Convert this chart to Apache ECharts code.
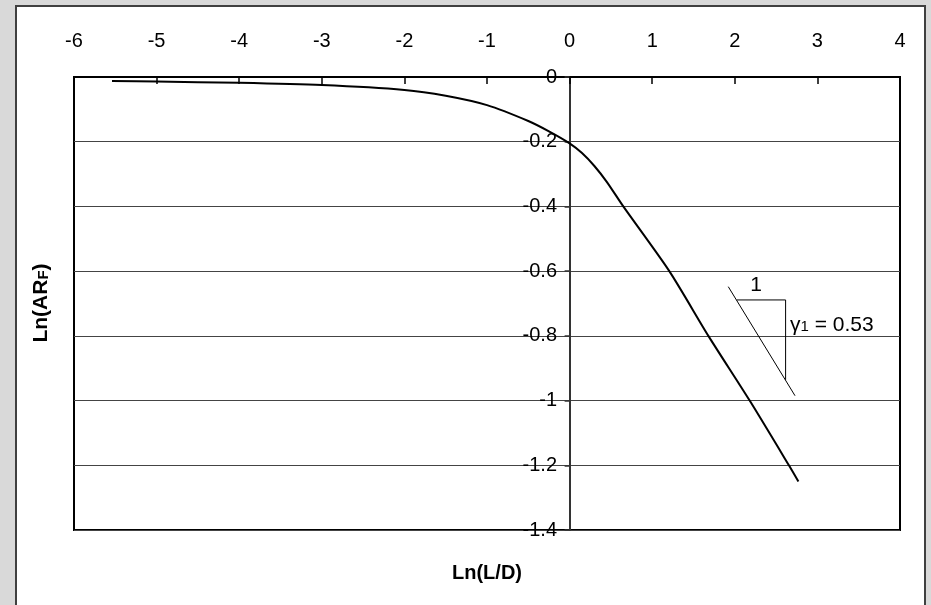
<!DOCTYPE html>
<html>
<head>
<meta charset="utf-8">
<script src="https://cdn.jsdelivr.net/npm/echarts@6/dist/echarts.min.js"></script>
<style>
html,body{margin:0;padding:0;background:#d9d9d9;}
#c{width:931px;height:605px;}
</style>
</head>
<body>
<div id="c"></div>
<script>
// Curve: Ln(L/D) vs Ln(ARF)
const lnLD  = [-5.54, -5.0, -4.0, -3.0, -2.0, -1.5, -1.0, -0.5, -0.25, 0.0, 0.15, 0.3, 0.45, 0.65, 1.207, 1.68, 2.18, 2.655, 2.77];
const lnARF = [-0.012, -0.014, -0.018, -0.025, -0.040, -0.058, -0.087, -0.136, -0.168, -0.205, -0.235, -0.275, -0.324, -0.40, -0.60, -0.80, -1.00, -1.20, -1.25];
// Slope annotation (data coordinates)
const slopeX = [1.921, 2.729];
const slopeY = [-0.648, -0.985];
const triX = [2.023, 2.615, 2.615];
const triY = [-0.689, -0.689, -0.936];
const labelOnePos = [2.257, -0.643];
const gammaPos = [2.668, -0.766];
// Axis ticks
const xTicks = [-6, -5, -4, -3, -2, -1, 0, 1, 2, 3, 4];
const yTicks = [0, -0.2, -0.4, -0.6, -0.8, -1, -1.2, -1.4];

const zip = (a, b) => a.map((v, i) => [v, b[i]]);
const FONT = 'Liberation Sans, Arial, sans-serif';

const chart = echarts.init(document.getElementById('c'));
chart.setOption({
  backgroundColor: '#d9d9d9',
  animation: false,
  graphic: [
    { type: 'rect', z: -100, shape: { x: 16, y: 6, width: 909, height: 620 },
      style: { fill: '#ffffff', stroke: '#404040', lineWidth: 2 } },
    { type: 'text', z: 100, x: 487, y: 573,
      style: { text: 'Ln(L/D)', font: 'bold 20px ' + FONT, fill: '#000', align: 'center', verticalAlign: 'middle' } },
    { type: 'text', z: 100, x: 41, y: 303, rotation: Math.PI / 2,
      style: { text: '{a|Ln(AR}{b|F}{a|)}', align: 'center', verticalAlign: 'middle',
        rich: {
          a: { fontSize: 21, fontWeight: 'bold', fontFamily: FONT, fill: '#000' },
          b: { fontSize: 15, fontWeight: 'bold', fontFamily: FONT, fill: '#000', padding: [6, 0, 0, 0] }
        } } }
  ],
  grid: { left: 74, top: 77, right: 31, bottom: 75, show: true, borderColor: '#000', borderWidth: 2,
    backgroundColor: 'transparent', containLabel: false, outerBoundsMode: 'none' },
  xAxis: {
    type: 'value', position: 'top', min: xTicks[0], max: xTicks[xTicks.length - 1], interval: 1,
    axisLine: { onZero: false, lineStyle: { color: '#000', width: 2 } },
    axisTick: { inside: true, length: 7, lineStyle: { color: '#000', width: 1.5 } },
    axisLabel: { margin: 26, color: '#000', fontSize: 20, fontFamily: FONT, showMinLabel: true, showMaxLabel: true },
    splitLine: { show: false }
  },
  yAxis: {
    type: 'value', min: yTicks[yTicks.length - 1], max: yTicks[0], interval: 0.2,
    axisLine: { onZero: true, lineStyle: { color: '#333', width: 2 } },
    axisTick: { length: 5, lineStyle: { color: '#333', width: 1.5 } },
    axisLabel: { margin: -483, color: '#000', fontSize: 20, fontFamily: FONT, align: 'right',
      formatter: v => String(Math.round(v * 10) / 10) },
    splitLine: { show: true, lineStyle: { color: '#444', width: 1 } }
  },
  series: [
    { type: 'line', data: zip(lnLD, lnARF), smooth: 0.25, showSymbol: false,
      lineStyle: { color: '#000', width: 2 }, z: 5 },
    { type: 'line', data: zip(slopeX, slopeY), showSymbol: false,
      lineStyle: { color: '#000', width: 1 }, z: 5 },
    { type: 'line', data: zip(triX, triY), showSymbol: false,
      lineStyle: { color: '#000', width: 1 }, z: 5 },
    { type: 'scatter', symbolSize: 0, z: 6, itemStyle: { opacity: 1 },
      data: [labelOnePos],
      label: { show: true, position: [0, 0], formatter: '1', color: '#000', opacity: 1, textBorderWidth: 0,
        fontSize: 21, fontFamily: FONT, align: 'center', verticalAlign: 'middle' } },
    { type: 'scatter', symbolSize: 0, z: 6, itemStyle: { opacity: 1 },
      data: [gammaPos],
      label: { show: true, position: [0, 0], align: 'left', verticalAlign: 'middle', color: '#000', opacity: 1, textBorderWidth: 0,
        formatter: '{g|γ}{s|1}{t| = 0.53}',
        rich: {
          g: { fontSize: 21, fontFamily: FONT, color: '#000' },
          s: { fontSize: 15, fontFamily: FONT, color: '#000', padding: [4, 0, 0, 0] },
          t: { fontSize: 21, fontFamily: FONT, color: '#000' }
        } } }
  ]
});
</script>
</body>
</html>
